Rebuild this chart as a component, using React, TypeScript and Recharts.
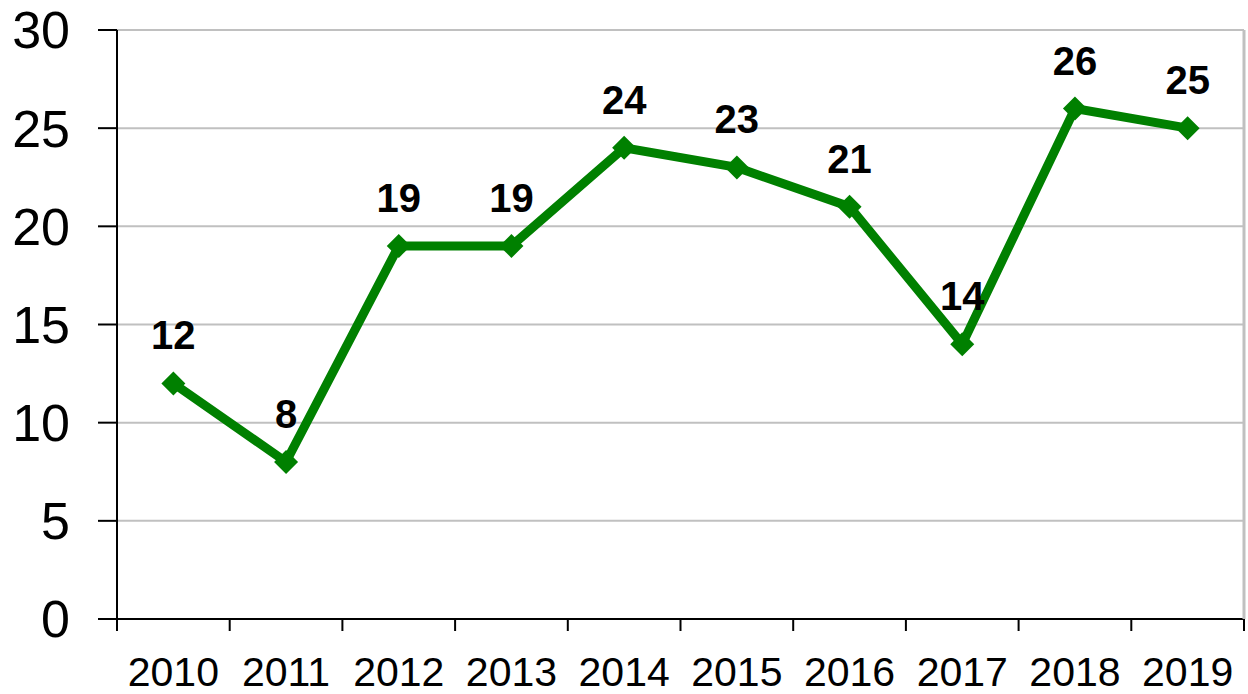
import React from 'react';
import {
    LineChart,
    Line,
    XAxis,
    YAxis,
    CartesianGrid,
    LabelList,
} from 'recharts';

// categories and values
const years = ['2010', '2011', '2012', '2013', '2014', '2015', '2016', '2017', '2018', '2019'];
const counts = [12, 8, 19, 19, 24, 23, 21, 14, 26, 25];
const yTicks = [0, 5, 10, 15, 20, 25, 30];

const data = years.map((year, i) => ({ year, value: counts[i] }));

const W = 1248;
const H = 694;
const Y_AXIS_W = 117;
const RIGHT_W = 4;
const bandW = (W - Y_AXIS_W - RIGHT_W) / years.length;

const font = 'Arial, "Liberation Sans", sans-serif';

const XTick = (props: any) => {
    const { x, y, payload, index } = props;
    const last = index === years.length - 1;
    return (
        <g>
            <line x1={x - bandW / 2} x2={x - bandW / 2} y1={y} y2={y + 12} stroke="#000" strokeWidth={2} />
            {last && <line x1={x + bandW / 2} x2={x + bandW / 2} y1={y} y2={y + 12} stroke="#000" strokeWidth={2} />}
            <text x={x} y={y + 67} textAnchor="middle" fontSize={41} fontFamily={font} fill="#000">
                {payload.value}
            </text>
        </g>
    );
};

const Diamond = (props: any) => {
    const { cx, cy } = props;
    if (cx == null || cy == null) return null;
    const r = 12;
    return (
        <polygon
            points={`${cx},${cy - r} ${cx + r},${cy} ${cx},${cy + r} ${cx - r},${cy}`}
            fill="#008000"
        />
    );
};

const App: React.FC = () => {
    return (
        <div style={{ position: 'absolute', left: 0, top: 0, width: W, height: H, background: '#fff' }}>
            <LineChart width={W} height={H} data={data} margin={{ top: 30, right: 0, left: 0, bottom: 0 }}>
                <CartesianGrid vertical={false} stroke="#c0c0c0" strokeWidth={2} />
                <XAxis
                    dataKey="year"
                    scale="band"
                    height={75}
                    axisLine={{ stroke: '#000', strokeWidth: 2 }}
                    tickLine={false}
                    tickSize={0}
                    tickMargin={0}
                    tick={<XTick />}
                    interval={0}
                />
                <YAxis
                    width={Y_AXIS_W}
                    domain={[0, 30]}
                    ticks={yTicks}
                    interval={0}
                    axisLine={{ stroke: '#000', strokeWidth: 2 }}
                    tickLine={{ stroke: '#000', strokeWidth: 2 }}
                    tickSize={19}
                    tickMargin={28}
                    tick={{ fill: '#000', fontSize: 52, fontFamily: font }}
                />
                <YAxis
                    yAxisId="r"
                    orientation="right"
                    width={RIGHT_W}
                    domain={[0, 30]}
                    tick={false}
                    tickLine={false}
                    axisLine={{ stroke: '#c0c0c0', strokeWidth: 3 }}
                />
                <Line
                    type="linear"
                    dataKey="value"
                    stroke="#008000"
                    strokeWidth={9}
                    dot={<Diamond />}
                    activeDot={false}
                    isAnimationActive={false}
                >
                    <LabelList
                        dataKey="value"
                        position="top"
                        offset={34}
                        style={{ fontSize: 40, fontWeight: 700, fontFamily: font, fill: '#000' }}
                    />
                </Line>
            </LineChart>
        </div>
    );
};

export default App;
